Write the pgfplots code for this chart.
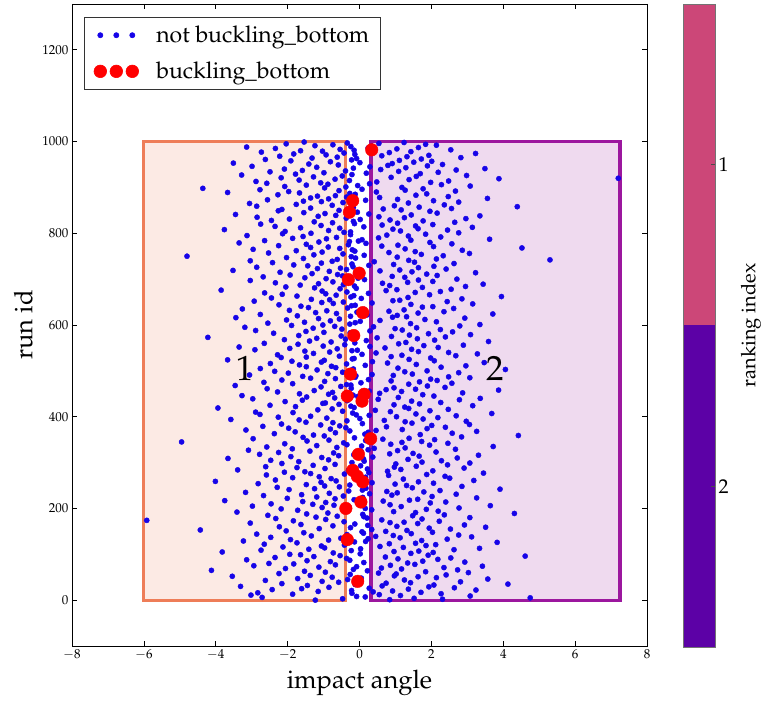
\documentclass[border=0pt]{standalone}
\usepackage{mathpazo}
\usepackage[T1]{fontenc}
\usepackage{pgfplots}
\usepackage{pgfplotstable}
\pgfplotsset{compat=1.18}
\definecolor{bluept}{RGB}{22,4,232}
\definecolor{boxone}{RGB}{238,125,88}
\definecolor{boxtwo}{RGB}{156,23,158}
\definecolor{rankone}{RGB}{204,71,120}
\definecolor{ranktwo}{RGB}{92,1,166}
\pgfplotstableread[row sep=\\]{
x\\
-1.23\\ 0.84\\ 2.31\\ -0.47\\ 1.52\\ 4.75\\ -2.71\\ 0.16\\ -0.08\\ 3.08\\
1.14\\ -3.02\\ 0.55\\ -1.86\\ 2.27\\ -0.21\\ -2.83\\ 1.71\\ 0.38\\ -1.15\\
0.92\\ -0.22\\ 3.24\\ -2.43\\ 1.36\\ -1.61\\ 0.27\\ 2.64\\ -0.85\\ 1.93\\
-3.31\\ 0.63\\ -1.45\\ 2.07\\ -0.12\\ 4.13\\ -2.16\\ 0.74\\ 1.42\\ -0.58\\
2.81\\ -1.04\\ -0.03\\ -2.62\\ 1.25\\ -0.33\\ 3.57\\ -1.72\\ 0.05\\ 2.14\\
-0.76\\ 1.63\\ -3.54\\ 0.97\\ -1.37\\ 2.41\\ -0.26\\ 1.02\\ -2.24\\ 0.53\\
3.03\\ -0.95\\ 1.84\\ -1.53\\ 0.22\\ -4.12\\ 2.73\\ -0.17\\ 1.17\\ -2.06\\
0.61\\ 2.35\\ -1.13\\ -0.08\\ 3.42\\ -2.94\\ 0.86\\ -0.67\\ 1.54\\ -1.83\\
-2.52\\ 1.34\\ 0.12\\ 2.93\\ -0.81\\ 1.76\\ -1.46\\ -0.27\\ -3.14\\ 2.18\\
1.07\\ -0.36\\ 2.54\\ -2.35\\ 0.72\\ -1.27\\ 4.61\\ -0.54\\ 1.91\\ -1.64\\
-1.94\\ 0.02\\ 1.43\\ -0.73\\ 2.05\\ -3.82\\ 0.96\\ 1.65\\ -0.23\\ -2.74\\
2.63\\ -1.41\\ 0.03\\ 3.34\\ -0.97\\ 1.22\\ -2.13\\ 0.57\\ -1.06\\ 1.85\\
-0.42\\ 2.12\\ -2.65\\ 0.83\\ 1.56\\ -1.74\\ 3.83\\ -0.14\\ 0.17\\ -3.23\\
1.73\\ -0.86\\ -1.92\\ 2.44\\ 0.24\\ -0.52\\ 1.13\\ -2.47\\ 3.12\\ 0.45\\
-1.34\\ 0.94\\ 2.76\\ -0.35\\ -2.86\\ 1.44\\ 0.11\\ -1.55\\ 2.03\\ 0.07\\
0.73\\ -2.04\\ 1.32\\ -4.43\\ 0.34\\ 2.53\\ -1.12\\ 1.94\\ -0.25\\ 3.51\\
-2.23\\ 1.04\\ -0.74\\ 0.23\\ 2.92\\ -1.63\\ -0.13\\ 1.62\\ -3.04\\ 0.85\\
1.24\\ -0.43\\ 2.22\\ -1.84\\ -5.92\\ 0.62\\ -0.94\\ 1.74\\ -2.33\\ 0.21\\
3.07\\ -1.21\\ 0.12\\ -0.62\\ 1.48\\ -2.55\\ 2.36\\ 0.09\\ -1.47\\ 4.31\\
-0.88\\ 1.56\\ -3.41\\ 0.95\\ 2.19\\ -0.37\\ -1.72\\ 0.34\\ 1.86\\ -2.18\\
0.16\\ 2.77\\ -1.04\\ -0.29\\ 1.16\\ -2.98\\ 3.64\\ -0.71\\ 0.85\\ -1.30\\
-2.46\\ 0.12\\ 1.97\\ -0.94\\ 2.40\\ -1.58\\ 0.66\\ -3.75\\ 1.39\\ -0.15\\
1.62\\ -0.68\\ -2.01\\ 3.26\\ 0.09\\ -1.19\\ 2.02\\ -0.45\\ -2.67\\ 0.90\\
-1.61\\ 2.69\\ 0.28\\ -0.84\\ 1.05\\ -3.17\\ 1.79\\ 0.76\\ -0.30\\ 2.24\\
0.08\\ -1.96\\ 3.91\\ -1.25\\ 0.18\\ 1.47\\ -2.29\\ -0.56\\ 2.85\\ -0.97\\
1.31\\ -0.27\\ -1.48\\ 0.99\\ -2.82\\ 2.06\\ 0.35\\ -1.07\\ 1.64\\ -4.01\\
-0.65\\ 3.18\\ -2.34\\ 0.04\\ 1.22\\ -0.79\\ 2.51\\ -1.86\\ 0.17\\ -1.12\\
2.38\\ -0.14\\ 0.81\\ -2.59\\ 1.87\\ -0.42\\ -1.36\\ 3.45\\ 0.26\\ -2.09\\
-1.52\\ 0.78\\ 2.04\\ -0.31\\ -3.39\\ 1.15\\ 0.22\\ -0.96\\ 2.91\\ -1.74\\
0.97\\ -2.61\\ 1.58\\ 0.03\\ -1.29\\ 2.45\\ -0.68\\ 1.01\\ -2.16\\ 3.07\\
-0.21\\ 1.74\\ -1.69\\ 0.13\\ 2.28\\ -2.47\\ -0.86\\ 1.35\\ 0.11\\ -3.66\\
2.72\\ -1.05\\ 0.37\\ -1.91\\ 1.66\\ -0.58\\ 3.31\\ -0.16\\ -2.78\\ 0.84\\
1.49\\ -0.72\\ -2.25\\ 2.13\\ 0.05\\ -1.38\\ 1.06\\ -3.09\\ 0.24\\ 2.67\\
-1.87\\ 0.41\\ 1.27\\ -0.63\\ -2.58\\ 3.72\\ 0.06\\ -1.19\\ 1.95\\ -0.35\\
0.87\\ -2.08\\ 2.46\\ -0.44\\ 1.18\\ -4.95\\ 1.73\\ -1.46\\ 0.17\\ -0.85\\
2.09\\ 0.65\\ -2.96\\ 1.38\\ -0.14\\ -1.57\\ 2.84\\ 0.23\\ -0.98\\ 4.42\\
-1.28\\ 1.69\\ 0.15\\ -2.37\\ 2.58\\ -0.67\\ 0.24\\ -1.79\\ 3.26\\ -0.27\\
0.46\\ -3.16\\ 1.19\\ -0.81\\ 1.88\\ -1.97\\ -0.38\\ 2.39\\ 0.75\\ -2.69\\
-0.55\\ 2.01\\ -1.08\\ 3.06\\ -2.17\\ 0.08\\ 1.46\\ -0.74\\ -1.49\\ 1.27\\
2.97\\ -0.35\\ 0.69\\ -1.68\\ -3.58\\ 1.77\\ 0.01\\ -0.91\\ 2.18\\ -2.26\\
1.03\\ -1.36\\ 2.69\\ 0.27\\ -0.09\\ -2.77\\ 1.57\\ 3.68\\ -0.19\\ -1.85\\
-2.89\\ 0.86\\ -0.47\\ 1.96\\ 0.44\\ -1.16\\ 2.47\\ -0.76\\ 1.37\\ -3.94\\
-0.15\\ 1.26\\ -1.78\\ -0.24\\ 3.15\\ -2.49\\ 0.96\\ -0.57\\ 1.67\\ -1.02\\
-0.95\\ 2.26\\ 0.14\\ -2.07\\ 1.45\\ -0.34\\ -1.59\\ 2.78\\ 0.52\\ -2.97\\
3.36\\ -0.69\\ 1.08\\ -1.47\\ -0.05\\ 2.07\\ -3.27\\ -0.18\\ 1.76\\ -0.86\\
-1.67\\ 0.56\\ 2.87\\ -0.75\\ -2.28\\ 1.17\\ 0.27\\ -1.26\\ 3.87\\ 0.74\\
1.56\\ -2.57\\ -0.23\\ 0.96\\ 2.38\\ -1.07\\ -0.52\\ 1.89\\ -3.46\\ -0.24\\
-0.36\\ 1.37\\ -1.86\\ 2.57\\ 0.04\\ -2.66\\ 1.67\\ -0.97\\ 0.88\\ 2.16\\
-2.16\\ 0.25\\ 1.98\\ -0.67\\ -1.36\\ 3.07\\ -0.12\\ 2.48\\ -1.58\\ -0.10\\
0.94\\ -3.06\\ 0.35\\ 1.47\\ -0.88\\ -1.98\\ 2.76\\ -0.47\\ 1.26\\ -2.36\\
1.88\\ -0.25\\ -1.18\\ 4.06\\ -0.17\\ -2.76\\ 1.07\\ -0.66\\ 2.27\\ -1.48\\
-0.78\\ 2.96\\ 0.16\\ -1.67\\ 1.58\\ -0.36\\ -2.48\\ 0.78\\ 3.47\\ -1.06\\
0.36\\ -1.88\\ 2.08\\ -0.98\\ -3.67\\ 1.38\\ -0.20\\ -0.15\\ 1.98\\ -2.18\\
-1.48\\ 0.88\\ -0.56\\ 2.68\\ 1.18\\ -2.28\\ 0.07\\ 3.28\\ -1.28\\ 0.46\\
2.48\\ -0.83\\ 1.64\\ -1.52\\ -0.21\\ -0.06\\ -2.91\\ 1.45\\ -0.62\\ -1.94\\
0.71\\ 2.19\\ -3.35\\ 0.29\\ -1.01\\ 1.79\\ 2.89\\ -0.41\\ -1.71\\ 1.09\\
-2.65\\ -0.13\\ 1.29\\ -0.79\\ 3.59\\ -1.39\\ 0.19\\ 2.09\\ -2.09\\ -0.39\\
1.61\\ -1.19\\ 0.49\\ -4.22\\ 2.39\\ 0.89\\ -0.51\\ -1.69\\ 1.39\\ 3.09\\
-0.19\\ 1.92\\ -2.39\\ -0.26\\ -0.99\\ 2.59\\ -1.49\\ 0.29\\ -2.89\\ 1.19\\
2.25\\ -0.49\\ 0.99\\ -1.29\\ 1.59\\ -3.19\\ 0.39\\ -0.69\\ 2.79\\ -1.89\\
-1.02\\ 3.35\\ -0.27\\ 1.42\\ -2.55\\ -0.12\\ -1.53\\ 2.14\\ 0.02\\ -0.81\\
0.57\\ -2.03\\ 1.82\\ -0.56\\ -1.14\\ 2.93\\ -3.44\\ 0.92\\ 1.31\\ -0.25\\
-1.73\\ 1.05\\ 0.21\\ -2.76\\ 3.71\\ -0.64\\ 1.63\\ -1.22\\ -0.07\\ 2.35\\
0.82\\ -0.91\\ -1.95\\ 1.24\\ 0.13\\ -3.26\\ 2.62\\ -0.33\\ -1.42\\ 1.75\\
2.04\\ -1.63\\ -0.22\\ -0.12\\ -2.24\\ 1.43\\ 3.15\\ -0.73\\ 0.35\\ -1.05\\
-0.45\\ 2.44\\ -2.93\\ 0.93\\ 1.12\\ -0.83\\ -1.34\\ 2.85\\ 0.05\\ -2.45\\
1.35\\ -0.24\\ 3.95\\ -1.74\\ -0.16\\ -0.65\\ 1.95\\ -2.15\\ -0.94\\ 0.25\\
-2.64\\ 1.55\\ -0.35\\ 2.25\\ -1.04\\ 0.74\\ -3.85\\ 1.04\\ 2.55\\ -0.54\\
-0.09\\ -1.25\\ 1.75\\ -2.05\\ 2.95\\ -0.14\\ 0.84\\ -1.65\\ -0.45\\ 3.44\\
-1.14\\ 0.64\\ -2.34\\ 1.34\\ -0.74\\ 2.04\\ -0.24\\ -3.04\\ 1.64\\ 0.14\\
2.71\\ -0.93\\ -0.04\\ -1.52\\ 1.26\\ -2.68\\ 0.91\\ -0.47\\ 2.16\\ -1.93\\
-0.61\\ 1.87\\ -1.32\\ 0.08\\ 3.23\\ -2.21\\ 1.46\\ -0.84\\ 0.57\\ -3.52\\
1.12\\ -0.36\\ 2.41\\ -1.17\\ -0.53\\ 1.64\\ -2.86\\ -0.18\\ 2.07\\ -1.44\\
0.26\\ -1.83\\ 0.95\\ -0.21\\ 2.63\\ -1.06\\ -2.42\\ 1.53\\ 0.41\\ -0.76\\
-3.04\\ 1.37\\ 5.30\\ -0.62\\ 2.14\\ -1.56\\ -0.11\\ -2.03\\ 1.05\\ -0.23\\
-4.80\\ 2.33\\ 0.13\\ -1.27\\ 1.72\\ -0.46\\ 3.06\\ -2.53\\ 0.82\\ -1.04\\
1.55\\ -0.13\\ -1.76\\ 2.86\\ -0.20\\ -2.96\\ 1.27\\ -0.55\\ 4.52\\ -1.36\\
-0.87\\ 2.06\\ 0.62\\ -2.25\\ 1.07\\ -0.31\\ -1.48\\ 2.57\\ 0.18\\ -3.35\\
1.96\\ -1.13\\ -0.28\\ -0.03\\ -2.64\\ 1.43\\ 0.07\\ 3.62\\ -0.92\\ -1.86\\
0.53\\ -0.64\\ 2.26\\ -1.57\\ 1.36\\ -3.13\\ 0.76\\ -0.25\\ 1.84\\ -2.14\\
-1.35\\ 2.76\\ -0.43\\ -0.25\\ -2.07\\ 1.14\\ -0.86\\ 2.45\\ -3.76\\ 0.93\\
1.63\\ -0.55\\ -1.64\\ 3.14\\ 0.12\\ -2.35\\ 1.56\\ -1.07\\ 0.63\\ 2.04\\
-2.75\\ -0.14\\ 1.06\\ -0.75\\ 2.65\\ -1.26\\ -0.17\\ 1.77\\ -2.45\\ 0.85\\
0.02\\ -1.95\\ 2.96\\ -0.37\\ 1.25\\ -2.85\\ 0.54\\ -1.15\\ 3.35\\ -0.66\\
1.44\\ -3.45\\ 0.26\\ -0.96\\ 2.16\\ -1.55\\ -0.06\\ -0.26\\ 1.96\\ -2.26\\
-0.57\\ 1.16\\ -2.16\\ 0.66\\ 2.56\\ -1.36\\ -0.17\\ 1.66\\ 4.39\\ -2.86\\
0.97\\ -0.76\\ 2.36\\ -1.76\\ -0.19\\ -3.06\\ 1.36\\ -0.46\\ 2.76\\ -1.06\\
-1.56\\ 2.06\\ 0.17\\ -2.56\\ 1.06\\ -0.86\\ 3.56\\ -1.36\\ 0.56\\ -0.36\\
2.47\\ -1.17\\ -0.67\\ 1.57\\ -2.27\\ -0.12\\ 1.87\\ -0.27\\ -1.67\\ -3.67\\
0.47\\ -1.97\\ 2.67\\ -0.57\\ 1.27\\ -2.77\\ 0.07\\ 1.77\\ -4.36\\ -0.97\\
1.18\\ -0.38\\ -2.08\\ 3.08\\ -0.05\\ -1.48\\ 2.28\\ -0.88\\ 0.28\\ -2.58\\
-1.08\\ 1.98\\ 0.48\\ -2.88\\ 2.48\\ -0.28\\ -1.68\\ 1.38\\ -0.68\\ 3.88\\
7.20\\ -2.18\\ 0.88\\ -1.28\\ 1.58\\ -0.48\\ 2.98\\ -3.28\\ -0.21\\ -1.78\\
1.69\\ 0.19\\ -0.99\\ 2.19\\ -2.49\\ 1.09\\ -0.39\\ -1.59\\ 2.69\\ 0.59\\
-2.09\\ 3.49\\ -0.17\\ 1.29\\ -1.19\\ 0.29\\ -2.99\\ 1.89\\ 0.79\\ -0.59\\
2.31\\ -1.41\\ 0.91\\ -3.51\\ 0.01\\ 1.51\\ -0.81\\ 2.01\\ -1.91\\ 1.11\\
-0.22\\ -2.62\\ 1.72\\ -0.08\\ -1.32\\ 2.82\\ -0.62\\ 1.32\\ -2.22\\ 0.62\\
1.93\\ -0.93\\ -0.13\\ -1.83\\ 3.23\\ -0.43\\ 0.83\\ -2.73\\ 1.43\\ -1.03\\
-1.64\\ -0.15\\ 2.54\\ -0.54\\ 1.04\\ -2.34\\ 0.24\\ 1.64\\ -3.14\\ -0.24\\
0.34\\ -1.24\\ 2.14\\ -0.74\\ 1.84\\ -2.04\\ 0.54\\ -0.34\\ 1.24\\ -1.54\\
}\bluedata
\begin{document}
\begin{tikzpicture}
\useasboundingbox (-72pt,-55pt) rectangle (690pt,646pt);
\pgfplotsset{/pgf/number format/1000 sep={}}
\begin{axis}[
  name=ax,
  at={(0pt,0pt)}, anchor=south west,
  scale only axis,
  width=575pt, height=642pt,
  xmin=-8, xmax=8, ymin=-100, ymax=1300,
  xtick={-8,-6,...,8}, ytick={0,200,...,1200},
  axis line style={line width=0.8pt},
  major tick length=5pt,
  tick style={line width=0.7pt, black},
  tick label style={font=\fontsize{13}{15}\selectfont},
  xlabel={impact angle}, ylabel={run id},
  label style={font=\fontsize{25.5}{29}\selectfont},
  xlabel style={at={(axis description cs:0.5,-0.058)}, anchor=center},
  ylabel style={at={(axis description cs:-0.085,0.5)}, anchor=center},
  legend cell align=left,
  legend style={at={(axis description cs:0.0209,0.98)}, anchor=north west,
    font=\fontsize{23}{26}\selectfont, draw=black!80, line width=0.6pt,
    inner xsep=9pt, inner ysep=7pt, row sep=14pt},
]
\addplot[draw=boxone, line width=3.2pt, fill=boxone, fill opacity=0.16, forget plot]
  coordinates {(-6,0) (-0.4,0) (-0.4,1000) (-6,1000)} -- cycle;
\addplot[draw=boxtwo, line width=3.2pt, fill=boxtwo, fill opacity=0.16, forget plot]
  coordinates {(0.32,0) (7.25,0) (7.25,1000) (0.32,1000)} -- cycle;
\addplot[only marks, mark=*, mark size=2.6pt, color=bluept, mark options={draw=none, fill=bluept},
  legend image code/.code={\path[draw=none, fill=none] (-7pt,0pt) -- (54pt,0pt);
    \draw[mark repeat=1, mark phase=1] plot coordinates {(0pt,0pt) (16pt,0pt) (32pt,0pt)};}]
  table[x index=0, y index=0, y expr=\coordindex] {\bluedata};
\addlegendentry{not buckling\_bottom\hspace{7pt}}
\addplot[only marks, mark=*, mark size=6.3pt, color=red, mark options={draw=none, fill=red},
  legend image code/.code={\path[draw=none, fill=none] (-7pt,0pt) -- (54pt,0pt);
    \draw[mark repeat=1, mark phase=1] plot coordinates {(0pt,0pt) (16pt,0pt) (32pt,0pt)};}]
  coordinates {
  (0.34,982) (-0.19,871) (-0.28,846) (-0.01,713) (-0.31,699)
  (0.09,627) (-0.16,577) (-0.25,493) (-0.34,445) (0.13,449)
  (0.07,434) (0.31,352) (-0.03,318) (-0.19,283) (-0.06,270)
  (0.09,258) (0.04,214) (-0.38,200) (-0.34,132) (-0.05,41)};
\addlegendentry{buckling\_bottom}
\node[font=\fontsize{35}{40}\selectfont] at (axis cs:-3.2,505) {1};
\node[font=\fontsize{35}{40}\selectfont] at (axis cs:3.77,505) {2};
\end{axis}
\begin{axis}[
  name=cb,
  at={(ax.north east)}, anchor=north west, xshift=36pt,
  scale only axis,
  width=32pt, height=643pt,
  xmin=0, xmax=1, ymin=0.5, ymax=2.5,
  xtick=\empty, ytick={1,2}, yticklabels={2,1},
  ytick pos=right, yticklabel pos=right,
  major tick length=4pt,
  tick style={line width=0.6pt, black!70},
  tick label style={font=\fontsize{20}{23}\selectfont},
  axis line style={draw=black!55, line width=0.6pt},
  ylabel={ranking index},
  ylabel style={font=\fontsize{20}{23}\selectfont, at={(axis description cs:2.12,0.5)}, anchor=center},
  axis on top,
]
\addplot[draw=none, fill=ranktwo] coordinates {(0,0.5) (1,0.5) (1,1.5) (0,1.5)} -- cycle;
\addplot[draw=none, fill=rankone] coordinates {(0,1.5) (1,1.5) (1,2.5) (0,2.5)} -- cycle;
\end{axis}
\end{tikzpicture}
\end{document}
